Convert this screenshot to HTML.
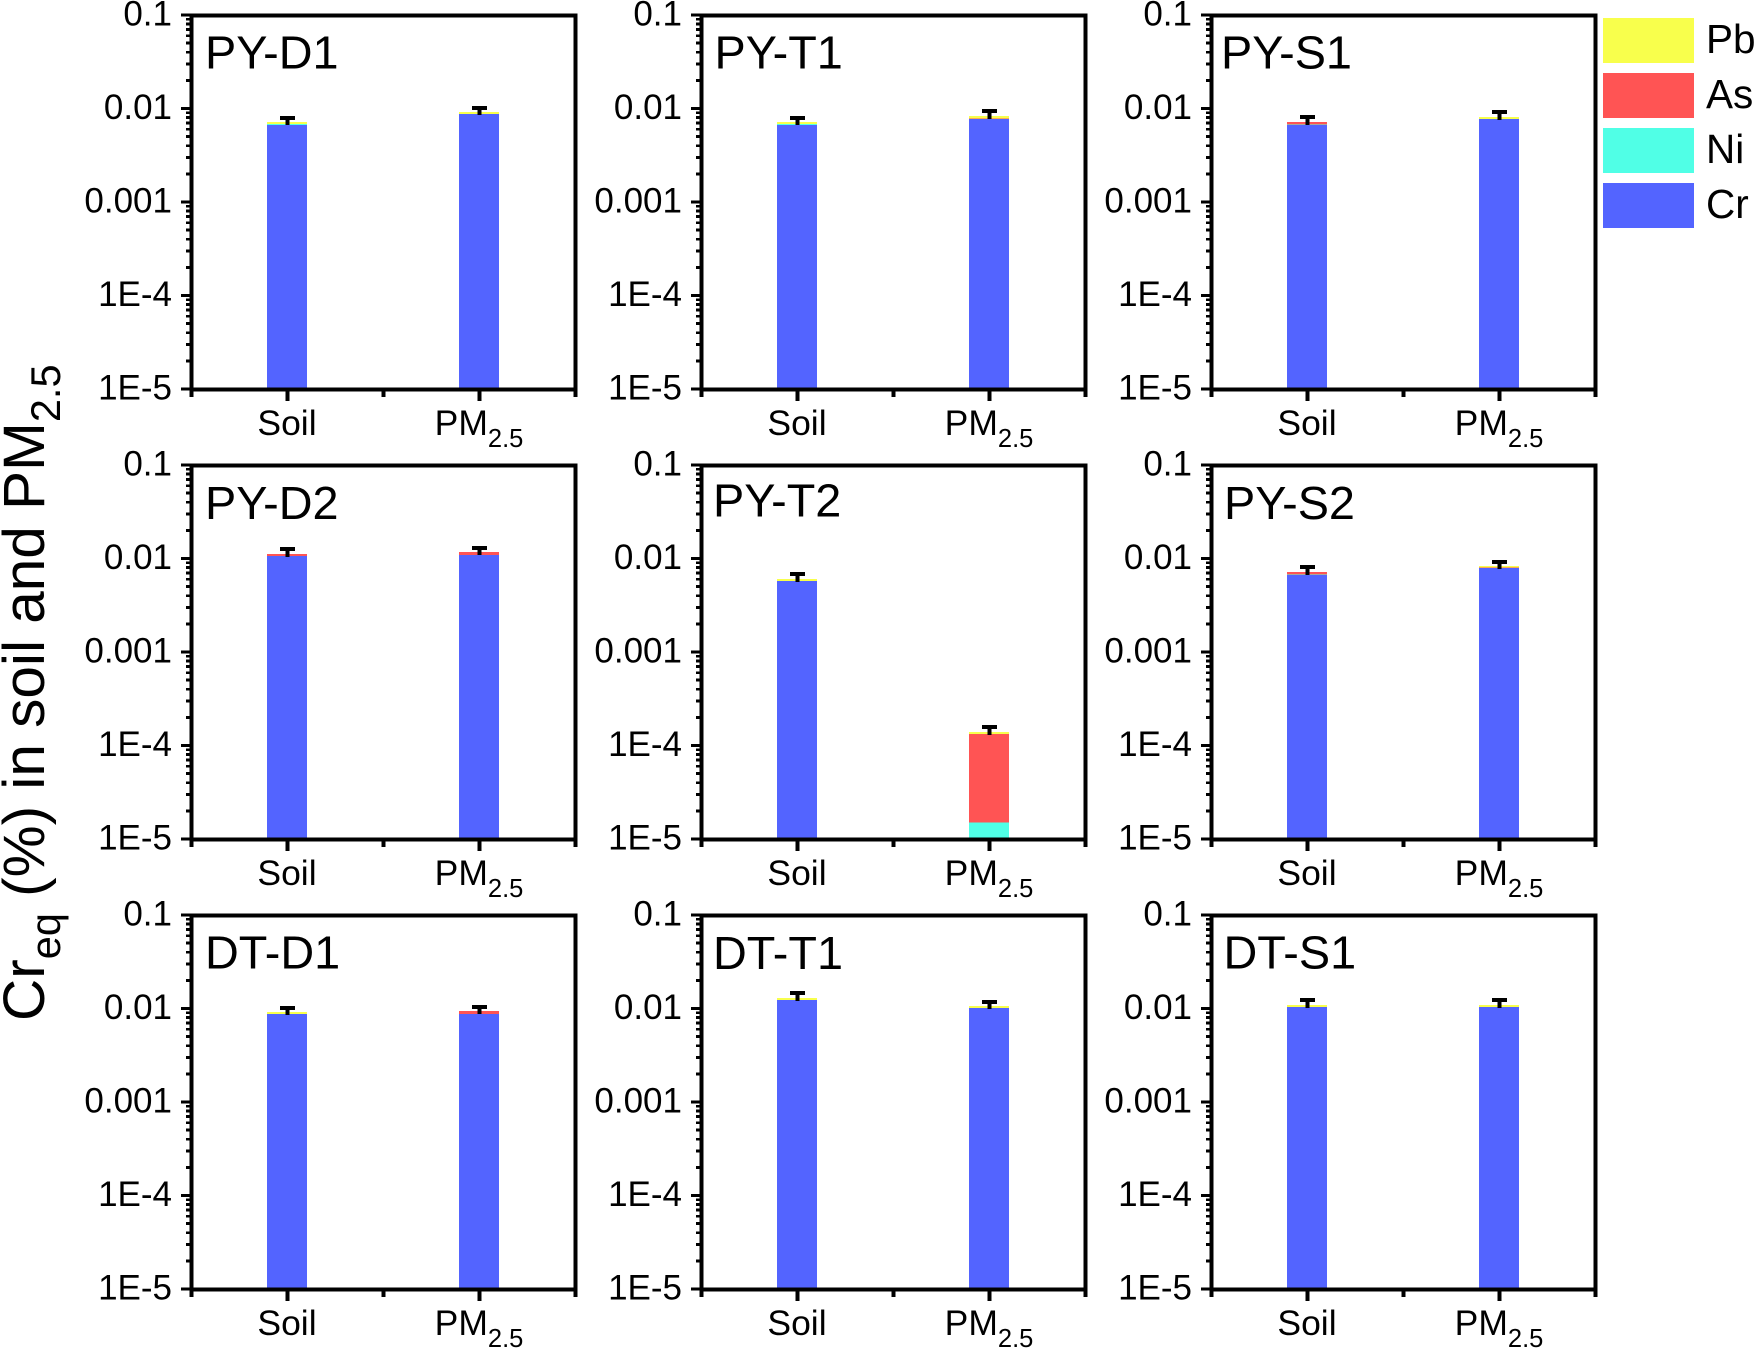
<!DOCTYPE html>
<html lang="en">
<head>
<meta charset="utf-8">
<title>Cr equivalent in soil and PM2.5</title>
<style>
html,body{margin:0;padding:0;background:#fff;}
svg{display:block;font-family:"Liberation Sans",Arial,sans-serif;fill:#000;}
</style>
</head>
<body>
<svg id="chart" xmlns="http://www.w3.org/2000/svg" width="1756" height="1348" viewBox="0 0 1756 1348">
  <rect x="0" y="0" width="1756" height="1348" fill="#fff"/>
  <text transform="translate(44 1021) rotate(-90)" font-size="58.5">Cr<tspan font-size="41.5" dy="16">eq</tspan><tspan dy="-16"> (%) in soil and PM</tspan><tspan font-size="41.5" dy="16">2.5</tspan></text>

  <g id="panels"></g>

  <g font-size="46.8">
    <text x="205" y="68.5">PY-D1</text>
    <text x="714.5" y="68.5">PY-T1</text>
    <text x="1221" y="68.5">PY-S1</text>
    <text x="205" y="519">PY-D2</text>
    <text x="713" y="516.5">PY-T2</text>
    <text x="1224" y="519">PY-S2</text>
    <text x="205" y="968.5">DT-D1</text>
    <text x="713" y="969">DT-T1</text>
    <text x="1223.5" y="968.5">DT-S1</text>
  </g>

  <g>
    <g>
      <rect x="1603" y="18" width="91" height="45" fill="#F8FF4C"/>
      <text x="1706" y="53" font-size="40.5">Pb</text>
    </g>
    <g>
      <rect x="1603" y="73" width="91" height="45" fill="#FF5454"/>
      <text x="1706" y="108" font-size="40.5">As</text>
    </g>
    <g>
      <rect x="1603" y="128" width="91" height="45" fill="#50FFE6"/>
      <text x="1706" y="163" font-size="40.5">Ni</text>
    </g>
    <g>
      <rect x="1603" y="183" width="91" height="45" fill="#5364FF"/>
      <text x="1706" y="218" font-size="40.5">Cr</text>
    </g>
  </g>
</svg>
<script>
// Data: each series holds [soil, PM2.5] per panel, in panel order
const panelIds = ['py-d1','py-t1','py-s1','py-d2','py-t2','py-s2','dt-d1','dt-t1','dt-s1'];
const categories = ['Soil','PM'];
const yTickLabels = ['0.1','0.01','0.001','1E-4','1E-5'];
const yTickValues = [0.1,0.01,0.001,0.0001,0.00001];
const crValues = [
  [0.00666,0.00873],[0.00666,0.00773],[0.00666,0.00773],
  [0.01064,0.0109],[0.00575,0],[0.00666,0.00791],
  [0.00873,0.00873],[0.01233,0.01012],[0.01037,0.01037]
];
const niValues = [
  [0.00018,0],[0.00018,0],[0.00012,0],
  [0,0],[0,0.00001494],[0.00012,0],
  [0,0],[0,0],[0,0]
];
const asValues = [
  [0,0],[0,0.00012],[0.00039,0],
  [0.00053,0.00084],[0,0.0001178],[0.00039,0.00009],
  [0,0.00067],[0,0],[0,0]
];
const pbValues = [
  [0.00033,0.00045],[0.00033,0.00047],[0,0.00038],
  [0,0],[0.00029,0.0000068],[0,0.00032],
  [0.00045,0],[0.00062,0.00052],[0.00053,0.00053]
];
const errValues = [
  [0.00074,0.00094],[0.00074,0.00108],[0.00094,0.00107],
  [0.00148,0.00121],[0.00079,0.0000183],[0.00094,0.00086],
  [0.00094,0.00097],[0.0017,0.0011],[0.00143,0.00143]
];
const seriesColors = {cr:'#5364FF',ni:'#50FFE6',as:'#FF5454',pb:'#F8FF4C'};

const NS = 'http://www.w3.org/2000/svg';
const root = document.getElementById('panels');
const PW = 384, PH = 374, COL0 = 191, ROW0 = 15, COLSTEP = 510, ROWSTEP = 450;
const LOGMAX = -1, LOGMIN = -5;

function make(tag, attrs, parent, text){
  const n = document.createElementNS(NS, tag);
  for (const k in attrs) n.setAttribute(k, attrs[k]);
  if (text !== undefined) n.textContent = text;
  parent.appendChild(n);
  return n;
}

panelIds.forEach(function(id, p){
  const left = COL0 + (p % 3) * COLSTEP;
  const top = ROW0 + Math.floor(p / 3) * ROWSTEP;
  const bottom = top + PH;
  const yScale = function(v){ return top + (LOGMAX - Math.log10(v)) / (LOGMAX - LOGMIN) * PH; };
  const xScale = function(i){ return left + (i + 0.5) * PW / 2; };

  const g = make('g', {}, root);
  
  

  // bars
  categories.forEach(function(cat, c){
    const cx = xScale(c);
    const stack = [['cr',crValues[p][c]],['ni',niValues[p][c]],['as',asValues[p][c]],['pb',pbValues[p][c]]];
    let cum = 0;
    stack.forEach(function(s){
      if (s[1] <= 0) return;
      const y0 = cum > 0 ? yScale(cum) : bottom;
      cum += s[1];
      const y1 = yScale(cum);
      const r = make('rect', {x:cx-20, y:y1, width:40, height:y0-y1, fill:seriesColors[s[0]], 'shape-rendering':'crispEdges'}, g);
      
      
    });
    // error bar
    const capY = yScale(cum + errValues[p][c]);
    const stemBottom = yScale(cum) + 3;
    const eb = make('path', {d:'M'+(cx-7)+' '+capY+'H'+(cx+8)+'M'+(cx+0.5)+' '+capY+'V'+stemBottom, stroke:'#000', 'stroke-width':3.6, fill:'none', 'shape-rendering':'crispEdges'}, g);
    
    

    // x label
    const t = make('text', {x:cx, y:bottom+46, 'font-size':35.5, 'text-anchor':'middle'}, g);
    
    
    if (c === 0) {
      t.textContent = cat;
    } else {
      make('tspan', {}, t, cat);
      make('tspan', {'font-size':25.5, dy:12}, t, '2.5');
    }
  });

  // frame
  const frame = make('rect', {x:left+0.5, y:top+0.5, width:PW, height:PH, fill:'none', stroke:'#000', 'stroke-width':4, 'shape-rendering':'crispEdges'}, g);
  
  

  // y ticks
  let d = '';
  yTickValues.forEach(function(v, i){
    const y = yScale(v);
    d += 'M'+(left-10)+' '+y+'H'+(left-1);
    const lab = make('text', {x:left-19, y:y+10.5, 'font-size':35, 'text-anchor':'end'}, g, yTickLabels[i]);
    
    
  });
  const majorY = make('path', {d:d, stroke:'#000', 'stroke-width':3.4, fill:'none', 'shape-rendering':'crispEdges'}, g);
  
  

  let dm = '';
  for (let e = LOGMIN; e < LOGMAX; e++) {
    for (let m = 2; m <= 9; m++) {
      dm += 'M'+(left-5)+' '+yScale(m * Math.pow(10, e))+'H'+(left-1);
    }
  }
  const minorY = make('path', {d:dm, stroke:'#000', 'stroke-width':2.8, fill:'none', 'shape-rendering':'crispEdges'}, g);
  
  

  // x ticks
  let dx = '';
  for (let i = 0; i <= 4; i++) {
    const tx = left + i * PW / 4 + 0.5;
    const len = i % 2 === 1 ? 12 : 8;
    dx += 'M'+tx+' '+(bottom+1)+'V'+(bottom+len);
  }
  const xt = make('path', {d:dx, stroke:'#000', 'stroke-width':3.6, fill:'none', 'shape-rendering':'crispEdges'}, g);
  
  
});
</script>
</body>
</html>
